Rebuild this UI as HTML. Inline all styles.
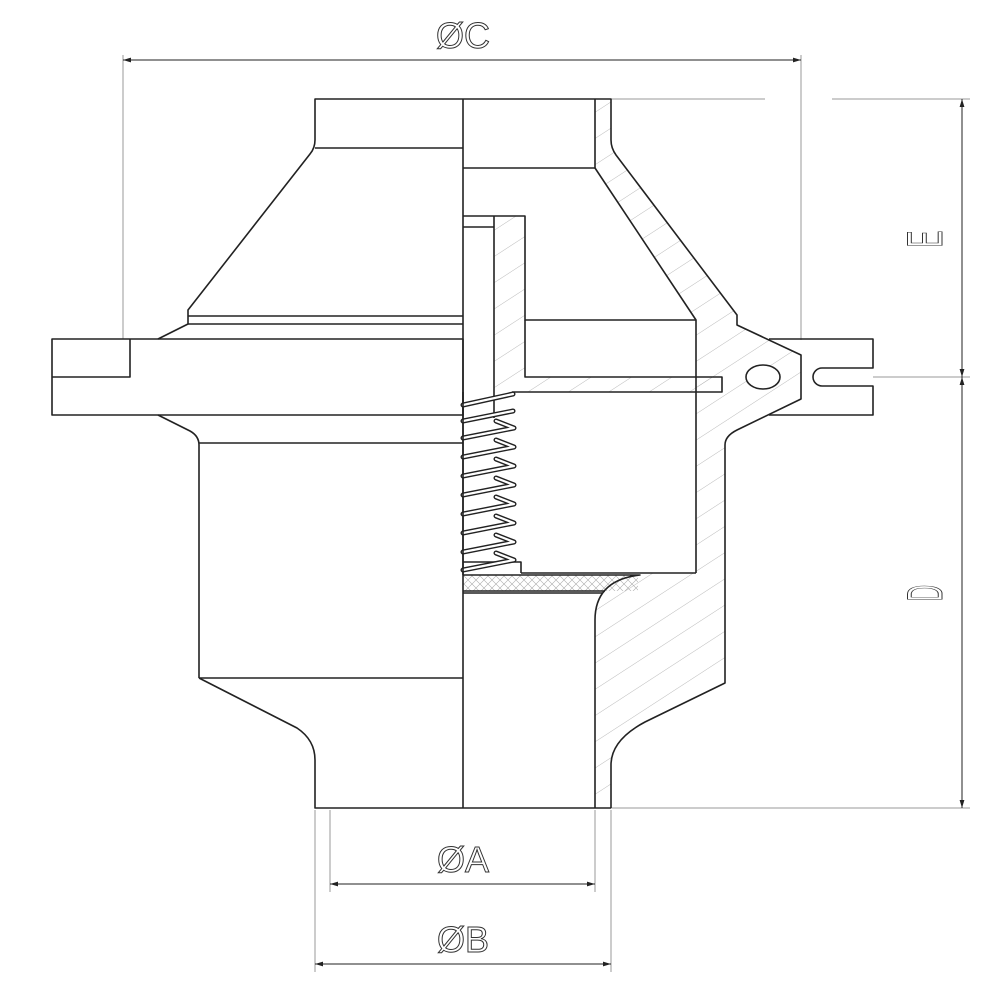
<!DOCTYPE html>
<html><head><meta charset="utf-8"><style>
html,body{margin:0;padding:0;background:#fff;}
svg{display:block;}
text{font-family:"Liberation Sans",sans-serif;font-weight:300;fill:#fff;stroke:#333;stroke-width:1;}
</style></head><body>
<svg width="1000" height="1000" viewBox="0 0 1000 1000" xmlns="http://www.w3.org/2000/svg">
<defs>
<pattern id="h" patternUnits="userSpaceOnUse" width="22" height="22" patternTransform="rotate(-33)">
<line x1="0" y1="0" x2="22" y2="0" stroke="#bbb" stroke-width="1"/>
</pattern>
<pattern id="x" patternUnits="userSpaceOnUse" width="8" height="8">
<path d="M0,0 L8,8 M8,0 L0,8" stroke="#aaa" stroke-width="0.6"/>
</pattern>
<marker id="a" viewBox="0 0 10 10" refX="10" refY="5" markerWidth="28" markerHeight="8" markerUnits="userSpaceOnUse" orient="auto-start-reverse">
<path d="M0,2 L10,5 L0,8 Z" fill="#222"/>
</marker>
</defs>

<g fill="none" stroke="#999" stroke-width="1">
<line x1="123" y1="55" x2="123" y2="339"/>
<line x1="801" y1="55" x2="801" y2="340"/>
<line x1="611" y1="99" x2="765" y2="99"/>
<line x1="832" y1="99" x2="970" y2="99"/>
<line x1="873" y1="377" x2="970" y2="377"/>
<line x1="611" y1="808" x2="970" y2="808"/>
<line x1="330" y1="810" x2="330" y2="892"/>
<line x1="595" y1="810" x2="595" y2="892"/>
<line x1="315" y1="810" x2="315" y2="972"/>
<line x1="611" y1="810" x2="611" y2="972"/>
</g>
<g stroke="#222" stroke-width="1">
<line x1="123" y1="60" x2="801" y2="60" marker-start="url(#a)" marker-end="url(#a)"/>
<line x1="962" y1="99" x2="962" y2="377" marker-start="url(#a)" marker-end="url(#a)"/>
<line x1="962" y1="377" x2="962" y2="808" marker-start="url(#a)" marker-end="url(#a)"/>
<line x1="330" y1="884" x2="595" y2="884" marker-start="url(#a)" marker-end="url(#a)"/>
<line x1="315" y1="964" x2="611" y2="964" marker-start="url(#a)" marker-end="url(#a)"/>
</g>
<text x="463" y="48" font-size="36" text-anchor="middle">ØC</text>
<text x="463" y="872" font-size="36" text-anchor="middle">ØA</text>
<text x="463" y="952" font-size="36" text-anchor="middle">ØB</text>
<text transform="translate(942,239) rotate(-90) scale(0.5,1)" font-size="50" text-anchor="middle">E</text>
<text transform="translate(942,593) rotate(-90) scale(0.45,1)" font-size="50" text-anchor="middle">D</text>

<!-- hatched wall -->
<path d="M595,99 L611,99 L611,140 Q611,148 616,155 L737,315 L737,325 L801,355 L801,399 L737,430 Q725,436 725,445 L725,683 L645,722 Q611,740 611,765 L611,808 L595,808 L595,620 Q595,575 645,573 L696,573 L696,320 L595,168 Z" fill="url(#h)" stroke="none"/>
<rect x="494" y="216" width="31" height="176" fill="url(#h)"/>
<rect x="525" y="377" width="197" height="15" fill="url(#h)"/>
<rect x="463" y="575" width="175" height="16" fill="url(#x)"/>

<g fill="none" stroke="#222" stroke-width="1.6" stroke-linejoin="round">
<path d="M463,99 L315,99 L315,140 Q315,148 310,154 L188,310 L188,324 L158,339"/>
<line x1="188" y1="316" x2="463" y2="316"/>
<line x1="188" y1="324" x2="463" y2="324"/>
<line x1="315" y1="148" x2="463" y2="148"/>
<rect x="52" y="339" width="411" height="76"/>
<path d="M52,377 L130,377 L130,339"/>
<path d="M158,415 L190,431 Q199,436 199,445 L199,678"/>
<line x1="199" y1="443" x2="463" y2="443"/>
<line x1="199" y1="678" x2="463" y2="678"/>
<path d="M199,678 L297,728 Q315,740 315,760 L315,808 L611,808"/>
<line x1="463" y1="99" x2="463" y2="808"/>
<path d="M463,99 L611,99 L611,140 Q611,148 616,155 L737,315 L737,325 L801,355 L801,399 L737,430 Q725,436 725,445 L725,683 L645,722 Q611,740 611,765 L611,808"/>
<path d="M595,99 L595,168 L463,168"/>
<path d="M595,168 L696,320 L696,573"/>
<path d="M463,216 L525,216 L525,320 L696,320"/>
<line x1="463" y1="227" x2="494" y2="227"/>
<line x1="494" y1="216" x2="494" y2="418"/>
<path d="M525,320 L525,377 L722,377 L722,392 L512,392"/>
<path d="M521,573 L521,562 L463,562"/>
<line x1="521" y1="573" x2="696" y2="573"/>
<path d="M463,575 L640,575 Q595,580 595,620 L595,808"/>
<line x1="463" y1="591" x2="605" y2="591"/>
<line x1="463" y1="593" x2="602" y2="593"/>
<path d="M769,339 L873,339 L873,368 L822,368 A9,9 0 0 0 822,386 L873,386 L873,415 L769,415"/>
<ellipse cx="763" cy="377" rx="17" ry="12" fill="#fff"/>
</g>
<!-- spring -->
<g fill="none" stroke-linecap="round" stroke-linejoin="round">
<path id="sp" d="M463,405 L513,394 M463,421 L513,411 M496,421 L514,428 L463,438 M496,440 L514,447 L463,457 M496,459 L514,466 L463,476 M496,478 L514,485 L463,495 M496,497 L514,504 L463,514 M496,516 L514,523 L463,533 M496,535 L514,542 L463,552 M496,553 L514,560 L463,570" stroke="#222" stroke-width="5"/>
<path d="M463,405 L513,394 M463,421 L513,411 M496,421 L514,428 L463,438 M496,440 L514,447 L463,457 M496,459 L514,466 L463,476 M496,478 L514,485 L463,495 M496,497 L514,504 L463,514 M496,516 L514,523 L463,533 M496,535 L514,542 L463,552 M496,553 L514,560 L463,570" stroke="#fff" stroke-width="2.2"/>
</g>
<line x1="463" y1="392" x2="463" y2="575" stroke="#222" stroke-width="1.6"/>
</svg>
</body></html>
